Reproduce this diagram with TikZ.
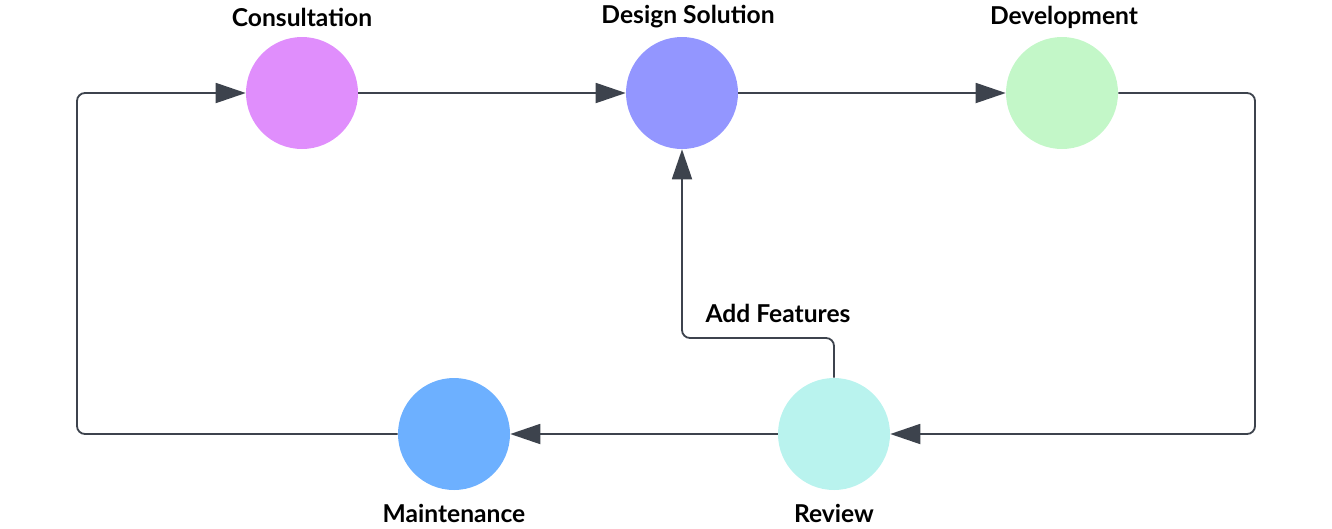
\documentclass[tikz,border=0pt]{standalone}
\usepackage{fontspec}
\setmainfont{Lato}
\usetikzlibrary{arrows.meta}
\definecolor{ln}{HTML}{3D434D}
\tikzset{
  stage/.style={circle,minimum size=112*0.025cm,inner sep=0pt},
  lbl/.style={font=\bfseries\fontsize{17.5pt}{20pt}\selectfont,text=black},
  conn/.style={draw=ln,line width=1.3pt,rounded corners=0.2cm,-{Triangle[length=0.75cm,width=0.5cm]}},
}
\begin{document}
\begin{tikzpicture}[x=0.025cm,y=-0.025cm]
\useasboundingbox (0,0) rectangle (1332,528);
\node[stage,fill={rgb,255:red,224;green,142;blue,252}] (c) at (302,93) {};
\node[stage,fill={rgb,255:red,147;green,150;blue,255}] (d) at (682,93) {};
\node[stage,fill={rgb,255:red,195;green,247;blue,200}] (v) at (1062,93) {};
\node[stage,fill={rgb,255:red,109;green,176;blue,255}] (m) at (454,434) {};
\node[stage,fill={rgb,255:red,185;green,243;blue,238}] (r) at (834,434) {};
\node[lbl] (lc) at (302,17) {Consultation};
\node[lbl] (ld) at (688,17) {Design Solution};
\node[lbl] (lv) at (1064,17) {Development};
\node[lbl] (lm) at (454,513) {Maintenance};
\node[lbl] (lr) at (834,513) {Review};
\node[lbl] (la) at (778,313) {Add Features};
\coordinate (tl) at (77,93);
\coordinate (bl) at (77,434);
\coordinate (tr) at (1255,93);
\coordinate (br) at (1255,434);
\draw[conn] (c) -- (d);
\draw[conn] (d) -- (v);
\draw[conn] (v.east) -- (tr) -- (br) -- (r.east);
\draw[conn] (r) -- (m);
\draw[conn] (m.west) -- (bl) -- (tl) -- (c.west);
\draw[conn] (r.north) -- (834,338) -- (682,338) -- (d.south);
\end{tikzpicture}
\end{document}
